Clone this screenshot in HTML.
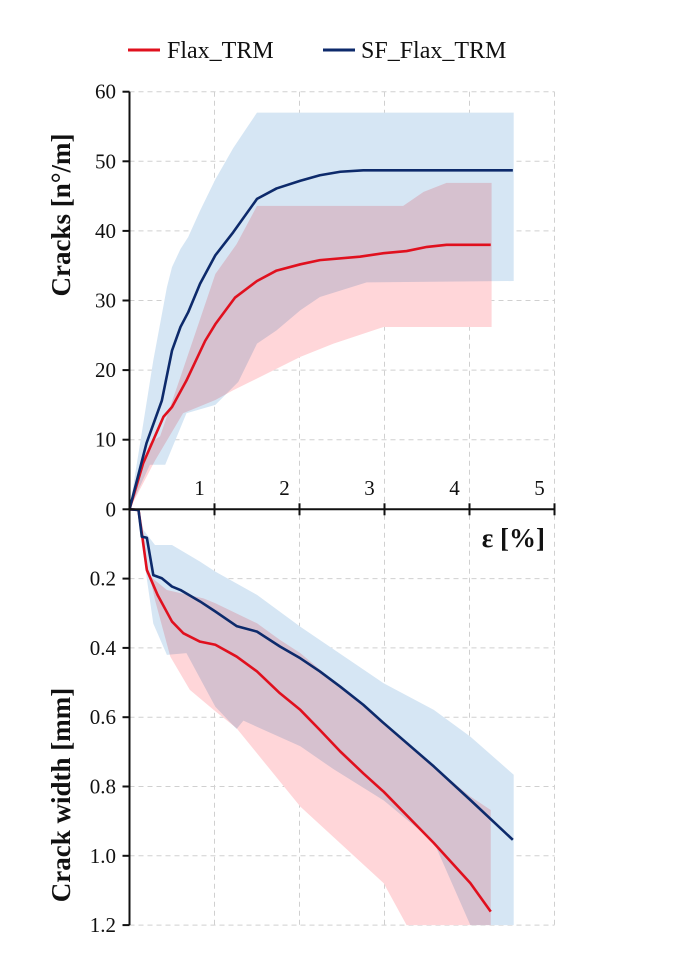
<!DOCTYPE html>
<html><head><meta charset="utf-8"><style>
html,body{margin:0;padding:0;background:#fff;}
svg{display:block;font-family:"Liberation Serif",serif;}
</style></head><body>
<svg id="chart" width="680" height="964" viewBox="0 0 680 964">
<g id="grid"></g>
<g id="bands" style="isolation:isolate"></g>
<g id="lines"></g>
<g id="axes"></g>
<g>
<line x1="128" y1="50" x2="160" y2="50" stroke="#e0101e" stroke-width="3"/>
<text x="167" y="58" font-size="24" fill="#111">Flax_TRM</text>
<line x1="323" y1="50" x2="355" y2="50" stroke="#0d2a6b" stroke-width="3"/>
<text x="361" y="58" font-size="24" fill="#111">SF_Flax_TRM</text>
</g>
<text transform="translate(70,215) rotate(-90)" text-anchor="middle" font-size="27" font-weight="bold" fill="#111">Cracks [n°/m]</text>
<text transform="translate(70,795) rotate(-90)" text-anchor="middle" font-size="27" font-weight="bold" fill="#111">Crack width [mm]</text>
<text x="545" y="547" text-anchor="end" font-size="27" font-weight="bold" fill="#111">ε [%]</text>
</svg>
<script>
const xTicks=[1,2,3,4,5];
const topTicks=[0,10,20,30,40,50,60];
const botTicks=[0.2,0.4,0.6,0.8,1.0,1.2];
const botTickLabels=["0.2","0.4","0.6","0.8","1.0","1.2"];
// top: cracks
const flaxCrX=[0,0.16,0.40,0.50,0.67,0.89,1.01,1.24,1.50,1.73,2.01,2.24,2.71,2.99,3.26,3.5,3.73,4.25];
const flaxCrY=[0,6.6,13.3,14.7,18.5,24.2,26.6,30.4,32.8,34.3,35.2,35.8,36.3,36.8,37.1,37.7,38.0,38.0];
const sfCrX=[0,0.20,0.38,0.50,0.60,0.69,0.83,1.01,1.22,1.50,1.73,2.01,2.24,2.48,2.75,4.51];
const sfCrY=[0,9.5,15.6,22.8,26.2,28.3,32.4,36.5,39.8,44.6,46.1,47.2,48.0,48.5,48.7,48.7];
const sfCrUpX=[0,0.125,0.28,0.44,0.50,0.60,0.69,0.83,1.01,1.22,1.50,4.52];
const sfCrUpY=[0,9.5,21.4,31.9,34.8,37.4,39.1,42.9,47.4,51.9,57.0,57.0];
const sfCrLoX=[0,0.24,0.42,0.67,1.01,1.28,1.50,1.73,2.01,2.24,2.79,4.52];
const sfCrLoY=[0,6.4,6.4,13.8,15.0,18.3,23.8,25.7,28.6,30.5,32.6,32.8];
const flaxCrUpX=[0,0.24,0.36,0.63,0.83,1.01,1.26,1.50,3.22,3.46,3.73,4.26];
const flaxCrUpY=[0,9.5,10.5,20.1,27.3,33.8,38.1,43.6,43.6,45.6,46.9,46.9];
const flaxCrLoX=[0,0.3,0.63,1.01,1.22,1.50,2.01,2.40,2.99,4.26];
const flaxCrLoY=[0,7,13.8,15.7,17.1,18.8,21.9,23.8,26.2,26.2];
// bottom: crack width
const flaxWX=[0,0.106,0.145,0.204,0.33,0.5,0.635,0.83,1.01,1.26,1.5,1.77,2.01,2.24,2.48,2.75,2.99,3.58,4.01,4.25];
const flaxWY=[0,0.002,0.069,0.175,0.247,0.324,0.358,0.382,0.391,0.425,0.468,0.531,0.579,0.637,0.699,0.762,0.815,0.963,1.079,1.161];
const sfWX=[0,0.106,0.145,0.204,0.28,0.38,0.5,0.6,0.83,1.01,1.26,1.5,1.77,2.01,2.24,2.48,2.75,2.99,3.58,4.01,4.51];
const sfWY=[0,0.002,0.079,0.082,0.19,0.199,0.223,0.233,0.266,0.295,0.337,0.353,0.396,0.430,0.468,0.512,0.564,0.617,0.742,0.839,0.954];
const sfWUpX=[0.106,0.165,0.30,0.50,0.83,1.01,1.5,2.01,2.99,3.58,4.01,4.52,4.52];
const sfWUpY=[0,0.06,0.103,0.103,0.151,0.18,0.247,0.339,0.502,0.579,0.656,0.766,1.2];
const sfWLoX=[0.106,0.145,0.28,0.44,0.67,1.01,1.26,1.34,2.01,2.4,2.99,3.58,4.01];
const sfWLoY=[0,0.1,0.33,0.42,0.415,0.57,0.634,0.61,0.684,0.75,0.84,0.96,1.2];
const flaxWUpX=[0.106,0.2,0.44,0.87,1.01,1.5,1.77,2.01,2.99,3.58,4.01,4.25,4.25];
const flaxWUpY=[0,0.185,0.233,0.257,0.271,0.329,0.377,0.415,0.617,0.742,0.829,0.868,1.2];
const flaxWLoX=[0.106,0.145,0.30,0.48,0.71,0.99,1.26,2.01,2.99,3.26];
const flaxWLoY=[0,0.088,0.262,0.425,0.521,0.579,0.632,0.858,1.079,1.2];

const NS="http://www.w3.org/2000/svg";
const X0=129.5,XU=85,Y0=509.3,YT=6.96,YB=346.5;
const sx=v=>X0+v*XU;
const syT=v=>Y0-v*YT;
const syB=v=>Y0+v*YB;
function mk(tag,attrs,parent){const e=document.createElementNS(NS,tag);for(const k in attrs)e.setAttribute(k,attrs[k]);parent.appendChild(e);return e;}
const grid=document.getElementById('grid'),bands=document.getElementById('bands'),lines=document.getElementById('lines'),axes=document.getElementById('axes');
const gs={stroke:"#d0d0d0","stroke-width":1,"stroke-dasharray":"5,4"};
topTicks.forEach(t=>{if(t===0)return;const l=mk('line',Object.assign({x1:X0,x2:sx(5),y1:syT(t),y2:syT(t)},gs),grid);

});
botTicks.forEach(t=>{const l=mk('line',Object.assign({x1:X0,x2:sx(5),y1:syB(t),y2:syB(t)},gs),grid);

});
xTicks.forEach(t=>{const l=mk('line',Object.assign({x1:sx(t),x2:sx(t),y1:syT(60),y2:syB(1.2)},gs),grid);

});
function band(ux,uy,lx,ly,sy,fill,name){
 let pts=ux.map((x,i)=>sx(x)+','+sy(uy[i]));
 for(let i=lx.length-1;i>=0;i--)pts.push(sx(lx[i])+','+sy(ly[i]));
 const p=mk('polygon',{points:pts.join(' '),fill:fill,style:'mix-blend-mode:multiply'},bands);
 
 
}
function line(xs,ys,sy,col,name){
 const p=mk('polyline',{points:xs.map((x,i)=>sx(x)+','+sy(ys[i])).join(' '),fill:'none',stroke:col,'stroke-width':2.6,'stroke-linejoin':'round'},lines);
 
 
}
const BF="#d6e6f4",RF="#ffd6d9";
band(sfCrUpX,sfCrUpY,sfCrLoX,sfCrLoY,syT,BF,'sf-cracks-band');
band(flaxCrUpX,flaxCrUpY,flaxCrLoX,flaxCrLoY,syT,RF,'flax-cracks-band');
band(sfWUpX,sfWUpY,sfWLoX,sfWLoY,syB,BF,'sf-width-band');
band(flaxWUpX,flaxWUpY,flaxWLoX,flaxWLoY,syB,RF,'flax-width-band');
line(flaxCrX,flaxCrY,syT,'#e0101e','flax-cracks-line');
line(sfCrX,sfCrY,syT,'#0d2a6b','sf-cracks-line');
line(flaxWX,flaxWY,syB,'#e0101e','flax-width-line');
line(sfWX,sfWY,syB,'#0d2a6b','sf-width-line');
// axes
const ax={stroke:'#111','stroke-width':2};
mk('line',Object.assign({x1:X0,x2:X0,y1:syT(60),y2:syB(1.2)},ax),axes);
mk('line',Object.assign({x1:X0,x2:sx(5),y1:Y0,y2:Y0},ax),axes);
topTicks.forEach(t=>{mk('line',Object.assign({x1:X0-7,x2:X0,y1:syT(t),y2:syT(t)},ax),axes);
 const tx=mk('text',{x:116,y:syT(t)+7,'text-anchor':'end','font-size':21,fill:'#111'},axes);tx.textContent=t;
 
 });
botTicks.forEach((t,i)=>{mk('line',Object.assign({x1:X0-7,x2:X0,y1:syB(t),y2:syB(t)},ax),axes);
 const tx=mk('text',{x:116,y:syB(t)+7,'text-anchor':'end','font-size':21,fill:'#111'},axes);tx.textContent=botTickLabels[i];
 
 });
xTicks.forEach(t=>{mk('line',Object.assign({x1:sx(t),x2:sx(t),y1:Y0-6,y2:Y0+6},ax),axes);
 const tx=mk('text',{x:sx(t)-15,y:495,'text-anchor':'middle','font-size':21,fill:'#111'},axes);tx.textContent=t;
 
 });
</script>
</body></html>
